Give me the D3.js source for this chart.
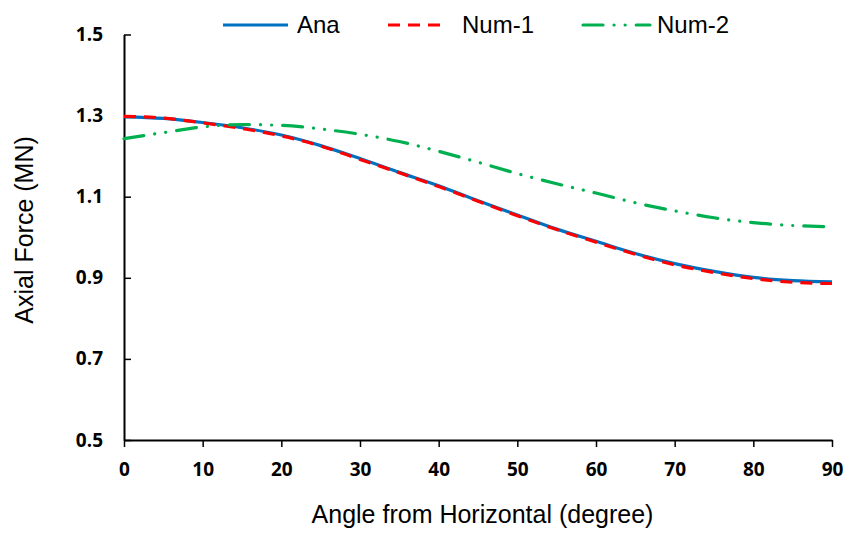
<!DOCTYPE html>
<html>
<head>
<meta charset="utf-8">
<script src="https://cdn.jsdelivr.net/npm/d3@7/dist/d3.min.js"></script>
<style>
  html, body { margin: 0; padding: 0; background: #fff; }
  svg { display: block; }
</style>
</head>
<body>
<svg id="chart" width="858" height="533"></svg>
<script>
// Angle from horizontal (degrees)
const angles = [0, 5, 10, 15, 20, 25, 30, 35, 40, 45, 50, 55, 60, 65, 70, 75, 80, 85, 90];

// Axial force (MN) for each series
const ana  = [1.297, 1.293, 1.283, 1.270, 1.252, 1.226, 1.194, 1.160, 1.127, 1.090, 1.055, 1.020, 0.990, 0.960, 0.935, 0.916, 0.901, 0.893, 0.890];
const num1 = [1.298, 1.294, 1.282, 1.268, 1.250, 1.225, 1.192, 1.159, 1.125, 1.089, 1.053, 1.019, 0.988, 0.958, 0.932, 0.913, 0.898, 0.889, 0.886];
const num2 = [1.243, 1.258, 1.272, 1.278, 1.276, 1.267, 1.254, 1.236, 1.212, 1.185, 1.157, 1.132, 1.109, 1.085, 1.065, 1.048, 1.036, 1.029, 1.026];

const seriesNames = ["Ana", "Num-1", "Num-2"];
const xTicks = [0, 10, 20, 30, 40, 50, 60, 70, 80, 90];
const yTicks = [0.5, 0.7, 0.9, 1.1, 1.3, 1.5];

const svg = d3.select("#chart");

const x = d3.scaleLinear().domain([0, 90]).range([124, 832]);
const y = d3.scaleLinear().domain([0.5, 1.5]).range([440, 34.5]);

const tickFont = "'Open Sans', 'Liberation Sans', sans-serif";
const textFont = "'Liberation Sans', Arial, sans-serif";

// Y axis: ticks point into the plot
const yAxis = svg.append("g")
  .attr("transform", `translate(${x(0)},0)`)
  .call(d3.axisLeft(y).tickValues(yTicks).tickFormat(d3.format(".1f"))
    .tickSizeInner(-7).tickSizeOuter(0).tickPadding(21));

// X axis: ticks point outward
const xAxis = svg.append("g")
  .attr("transform", `translate(0,${y(0.5)})`)
  .call(d3.axisBottom(x).tickValues(xTicks).tickFormat(d3.format("d"))
    .tickSizeInner(7).tickSizeOuter(0).tickPadding(16));

[xAxis, yAxis].forEach(g => {
  g.select(".domain").attr("stroke", "#000").attr("stroke-width", 2);
  g.selectAll(".tick line").attr("stroke", "#000").attr("stroke-width", 1.5);
  g.selectAll(".tick text")
    .attr("fill", "#000")
    .style("font-family", tickFont)
    .style("font-weight", "700")
    .style("font-size", "19px");
});

// Axis titles
svg.append("text")
  .attr("x", 482.5).attr("y", 523)
  .attr("text-anchor", "middle")
  .style("font-family", textFont).style("font-size", "25px")
  .text("Angle from Horizontal (degree)");

svg.append("text")
  .attr("transform", "translate(33,230) rotate(-90)")
  .attr("text-anchor", "middle")
  .style("font-family", textFont).style("font-size", "25px")
  .text("Axial Force (MN)");

// Series styles
const styles = [
  { values: ana,  color: "#0070C0", dash: null },
  { values: num1, color: "#FF0000", dash: "12,8" },
  { values: num2, color: "#00B050", dash: "20,11,0.1,11,0.1,11" }
];

const line = d3.line()
  .x(d => x(d[0]))
  .y(d => y(d[1]))
  .curve(d3.curveMonotoneX);

styles.forEach(s => {
  svg.append("path")
    .datum(angles.map((a, i) => [a, s.values[i]]))
    .attr("fill", "none")
    .attr("stroke", s.color)
    .attr("stroke-width", 3.2)
    .attr("stroke-dasharray", s.dash)
    .attr("stroke-linecap", s.dash && s.dash.includes("0.1") ? "round" : "butt")
    .attr("d", line);
});

// Legend
const legendItems = [
  { x1: 223, x2: 288, tx: 297 },
  { x1: 388, x2: 443, tx: 462 },
  { x1: 583, x2: 650, tx: 657 }
];
legendItems.forEach((it, i) => {
  const s = styles[i];
  svg.append("line")
    .attr("x1", it.x1).attr("x2", it.x2)
    .attr("y1", 25).attr("y2", 25)
    .attr("stroke", s.color)
    .attr("stroke-width", 3.2)
    .attr("stroke-dasharray", s.dash)
    .attr("stroke-linecap", s.dash && s.dash.includes("0.1") ? "round" : "butt");
  svg.append("text")
    .attr("x", it.tx).attr("y", 33)
    .style("font-family", textFont).style("font-size", "24px")
    .text(seriesNames[i]);
});
</script>
</body>
</html>
